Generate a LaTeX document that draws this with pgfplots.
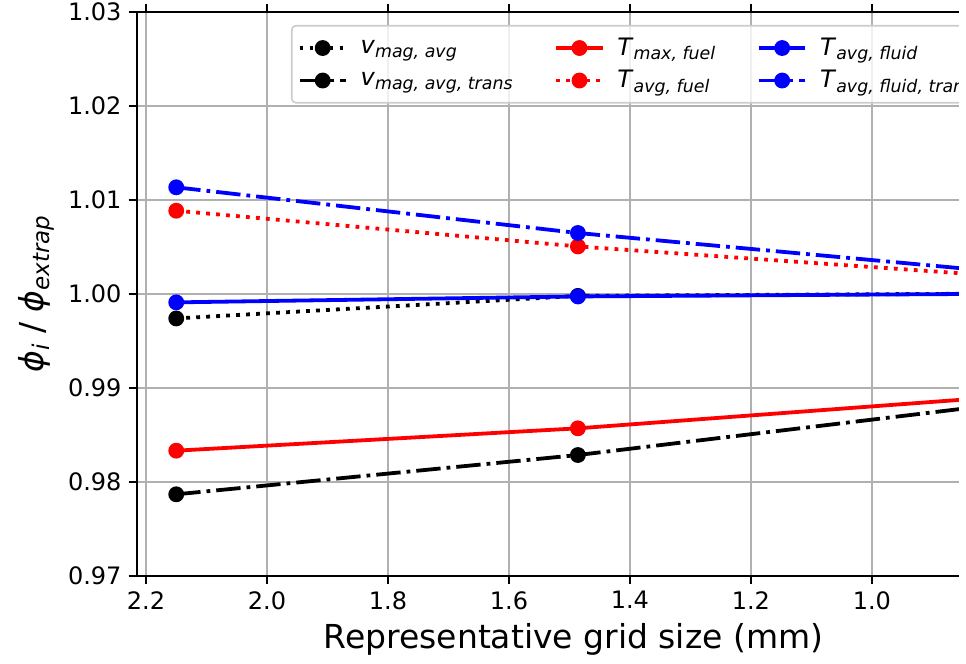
\documentclass[border=0pt]{standalone}
\usepackage{fontspec}
\setmainfont{DejaVu Sans}
\usepackage{pgfplots}
\pgfplotsset{compat=1.18}
\definecolor{gridgray}{HTML}{B0B0B0}
\definecolor{legedge}{HTML}{CCCCCC}
\newcommand{\sub}[1]{\raisebox{-2.2pt}{\fontsize{8.7}{10}\selectfont\itshape #1}}

\begin{document}
\begin{tikzpicture}
\begin{axis}[
  scale only axis,
  width=436.5pt, height=282pt,
  x dir=reverse,
  xmin=0.7717, xmax=2.2149,
  ymin=0.97, ymax=1.03,
  xtick={1.0,1.2,1.4,1.6,1.8,2.0,2.2},
  ytick={0.97,0.98,0.99,1.00,1.01,1.02,1.03},
  grid=major,
  major grid style={gridgray, line width=1pt},
  axis line style={black, line width=1pt},
  tick style={black, line width=1pt},
  tick align=outside,
  major tick length=4.2pt,
  /pgf/number format/assume math mode=true,
  every tick label/.append style={font=\fontsize{12}{14}\selectfont},
  xticklabel style={/pgf/number format/.cd, fixed, fixed zerofill, precision=1},
  yticklabel style={/pgf/number format/.cd, fixed, fixed zerofill, precision=2},
  xlabel={Representative grid size (mm)},
  ylabel={\textit{ϕ}{\raisebox{-2.8pt}{\fontsize{11.5}{12}\selectfont\itshape i}} / \textit{ϕ}{\raisebox{-2.8pt}{\fontsize{11.5}{12}\selectfont\itshape extrap}}},
  label style={font=\fontsize{16.5}{20}\selectfont},
  legend columns=3,
  legend cell align=left,
  legend style={at={(0.1764,0.977)}, anchor=north west, draw=legedge, line width=0.8pt,
    fill=white, fill opacity=0.8, text opacity=1, rounded corners=2pt,
    font=\fontsize{12}{14}\selectfont,
    inner ysep=4pt,
    /tikz/every even column/.append style={column sep=19pt},
    /tikz/every odd column/.append style={column sep=4.5pt},
    /tikz/row sep=2pt},
  legend image code/.code={\draw[mark repeat=2,mark phase=2,#1] plot coordinates {(0pt,0pt) (11.5pt,0pt) (23pt,0pt)};},
  every axis plot/.append style={line width=1.9pt, mark=*, mark size=3pt},
]
\addplot[black, dash pattern=on 1.9pt off 3.1pt, mark options={solid, fill opacity=1}] coordinates {(2.150,0.99740) (1.486,0.99980) (0.75,1.00006)};
\addlegendentry{\textit{v}\sub{mag, avg}}
\addplot[red, solid, mark options={solid, fill opacity=1}] coordinates {(2.150,0.98333) (1.486,0.98571) (0.75,0.98924)};
\addlegendentry{\textit{T}\sub{max, fuel}}
\addplot[blue, solid, mark options={solid, fill opacity=1}] coordinates {(2.150,0.99911) (1.486,0.99974) (0.75,1.00004)};
\addlegendentry{\textit{T}\sub{avg, fluid}}
\addplot[black, dash pattern=on 12.2pt off 3pt on 1.9pt off 3pt, mark options={solid, fill opacity=1}] coordinates {(2.150,0.97869) (1.486,0.98287) (0.75,0.98857)};
\addlegendentry{\textit{v}\sub{mag, avg, trans}}
\addplot[red, dash pattern=on 1.9pt off 3.1pt, mark options={solid, fill opacity=1}] coordinates {(2.150,1.00886) (1.486,1.00506) (0.75,1.00174)};
\addlegendentry{\textit{T}\sub{avg, fuel}}
\addplot[blue, dash pattern=on 12.2pt off 3pt on 1.9pt off 3pt, mark options={solid, fill opacity=1}] coordinates {(2.150,1.01135) (1.486,1.00649) (0.75,1.00213)};
\addlegendentry{\textit{T}\sub{avg, fluid, trans}}
\end{axis}
\pgfresetboundingbox
\fill[white] ([xshift=411pt,yshift=-44pt]current axis.south west) rectangle ([xshift=430pt,yshift=300pt]current axis.south west);
\pgfresetboundingbox
\path[use as bounding box] ([xshift=-68.5pt,yshift=-44pt]current axis.south west) rectangle ([xshift=414.5pt,yshift=288pt]current axis.south west);
\end{tikzpicture}
\end{document}
